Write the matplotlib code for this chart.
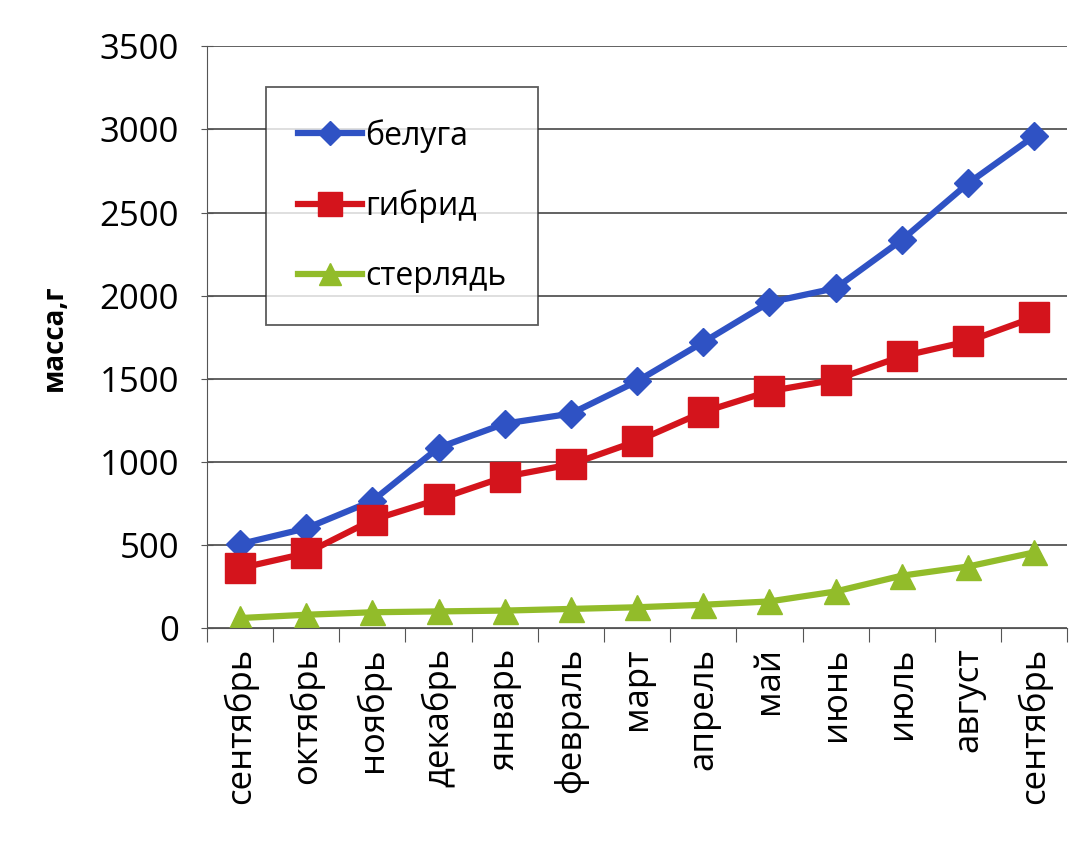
import matplotlib.pyplot as plt
import numpy as np

plt.rcParams['font.family'] = ['Open Sans', 'DejaVu Sans']

months = ["сентябрь", "октябрь", "ноябрь", "декабрь", "январь", "февраль",
          "март", "апрель", "май", "июнь", "июль", "август", "сентябрь"]
beluga = [505, 600, 765, 1085, 1230, 1290, 1485, 1720, 1960, 2045, 2335, 2675, 2960]
hybrid = [360, 450, 650, 775, 910, 985, 1125, 1300, 1425, 1495, 1635, 1725, 1870]
sterlet = [60, 80, 95, 100, 105, 115, 125, 140, 160, 220, 315, 370, 455]

fig = plt.figure(figsize=(10.89, 8.43), dpi=100)
ax = fig.add_axes([0.19, 0.255, 0.79, 0.69])

x = np.arange(len(months))
ax.plot(x, beluga, color='#2f52c4', lw=4.5, marker='D', ms=14, label='белуга')
ax.plot(x, hybrid, color='#d4141c', lw=4.5, marker='s', ms=21, label='гибрид')
ax.plot(x, sterlet, color='#92bc2a', lw=4.5, marker='^', ms=18, label='стерлядь')

ax.set_ylim(0, 3500)
ax.set_yticks(np.arange(0, 3501, 500))
ax.set_xlim(-0.5, len(months) - 0.5)
ax.yaxis.grid(True, color='#555555', lw=1.3)
ax.set_axisbelow(True)
ax.spines['top'].set_visible(False)
ax.spines['right'].set_visible(False)
ax.spines['left'].set_color('#555555')
ax.spines['bottom'].set_color('#555555')

# category ticks sit on boundaries like in Excel
ax.set_xticks(np.arange(-0.5, len(months) + 0.5, 1))
ax.set_xticklabels([])
ax.set_xticks(x, minor=True)
ax.set_xticklabels(months, minor=True, rotation=90, fontsize=25)
ax.tick_params(axis='x', which='minor', length=0, pad=14)
ax.tick_params(axis='x', which='major', length=10, direction='out', color='#555555')
ax.tick_params(axis='y', labelsize=25, length=8, direction='inout', color='#555555', pad=16)

ax.set_ylabel('масса,г', fontsize=20, fontweight='bold', labelpad=22)

leg = ax.legend(loc='upper left', bbox_to_anchor=(0.05, 0.958), fontsize=23,
                frameon=True, fancybox=False, edgecolor='#333333',
                handlelength=2.0, handletextpad=0.1, labelspacing=1.15,
                borderpad=1.0, markerscale=0.85)
leg.get_frame().set_linewidth(1.3)

fig.savefig('out.png', dpi=100, facecolor='white')
